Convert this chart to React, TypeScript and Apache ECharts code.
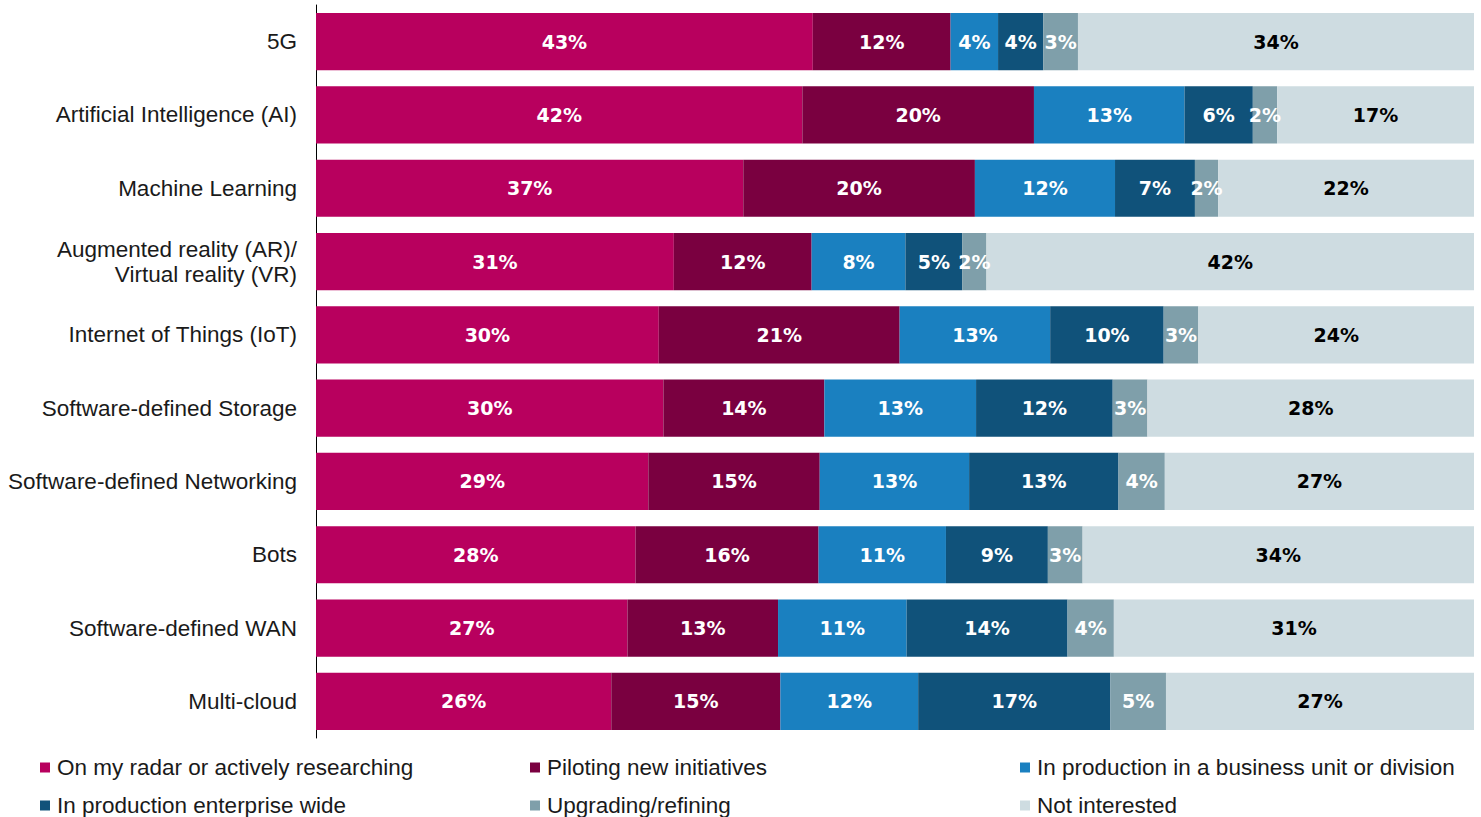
import React, { useEffect, useRef } from "react";
import * as echarts from "echarts";

const categories = [
  "5G",
  "Artificial Intelligence (AI)",
  "Machine Learning",
  "Augmented reality (AR)/\nVirtual reality (VR)",
  "Internet of Things (IoT)",
  "Software-defined Storage",
  "Software-defined Networking",
  "Bots",
  "Software-defined WAN",
  "Multi-cloud",
];

const seriesNames = [
  "On my radar or actively researching",
  "Piloting new initiatives",
  "In production in a business unit or division",
  "In production enterprise wide",
  "Upgrading/refining",
  "Not interested",
];

const radar = [42.9, 42.0, 36.9, 30.9, 29.6, 30.0, 28.7, 27.6, 26.9, 25.5];
const piloting = [11.9, 20.0, 20.0, 11.9, 20.8, 13.9, 14.8, 15.8, 13.0, 14.6];
const prodUnit = [4.1, 13.0, 12.1, 8.1, 13.0, 13.1, 12.9, 11.0, 11.1, 11.9];
const prodWide = [3.9, 5.9, 6.9, 4.9, 9.8, 11.8, 12.9, 8.8, 13.9, 16.6];
const upgrading = [3.0, 2.1, 2.0, 2.1, 3.0, 3.0, 4.0, 3.0, 4.0, 4.8];
const notInterested = [34.2, 17.0, 22.1, 42.1, 23.8, 28.2, 26.7, 33.8, 31.1, 26.6];

const seriesValues = [radar, piloting, prodUnit, prodWide, upgrading, notInterested];
const colors = ["#B8005E", "#7A0040", "#1A80C0", "#10527A", "#7F9FAA", "#CEDCE1"];
const labelColors = ["#FFFFFF", "#FFFFFF", "#FFFFFF", "#FFFFFF", "#FFFFFF", "#000000"];

const legendPos = [
  { left: 40, top: 756 },
  { left: 530, top: 756 },
  { left: 1020, top: 756 },
  { left: 40, top: 794 },
  { left: 530, top: 794 },
  { left: 1020, top: 794 },
];

export default function App() {
  const ref = useRef<HTMLDivElement>(null);
  useEffect(() => {
    if (!ref.current) return;
    const chart = echarts.init(ref.current, undefined, { renderer: "svg" });
    const font = "'Liberation Sans', Arial, sans-serif";
    const labelFont = "'DejaVu Sans', sans-serif";
    chart.setOption({
      animation: false,
      backgroundColor: "#FFFFFF",
      textStyle: { fontFamily: font },
      grid: { left: 316, right: 7, top: 5, height: 733, containLabel: false },
      xAxis: {
        type: "value",
        min: 0,
        max: 100,
        show: false,
      },
      yAxis: {
        type: "category",
        inverse: true,
        data: categories,
        axisLine: { show: true, lineStyle: { color: "#000000", width: 1 } },
        axisTick: { show: false },
        axisLabel: {
          margin: 19,
          fontSize: 22.5,
          color: "#1a1a1a",
          fontFamily: font,
          lineHeight: 25,
          align: "right",
        },
        splitLine: { show: false },
      },
      legend: seriesNames.map((name, i) => ({
        data: [name],
        left: legendPos[i].left,
        top: legendPos[i].top,
        orient: "horizontal",
        itemWidth: 10,
        itemHeight: 10,
        icon: "rect",
        padding: 0,
        selectedMode: false,
        textStyle: { fontSize: 22.5, color: "#1a1a1a", fontFamily: font, lineHeight: 22, padding: [0, 0, 0, 2] },
      })),
      series: seriesNames.map((name, i) => ({
        name,
        type: "bar",
        stack: "total",
        barCategoryGap: "22%",
        data: seriesValues[i],
        itemStyle: { color: colors[i] },
        label: {
          show: true,
          position: "inside",
          formatter: (p: any) => Math.round(p.value) + "%",
          color: labelColors[i],
          fontSize: 19,
          fontWeight: "bold",
          fontFamily: labelFont,
        },
        emphasis: { disabled: true },
      })),
    });
    return () => chart.dispose();
  }, []);
  return (
    <div
      ref={ref}
      style={{ position: "fixed", left: 0, top: 0, width: 1481, height: 817, background: "#fff" }}
    />
  );
}
